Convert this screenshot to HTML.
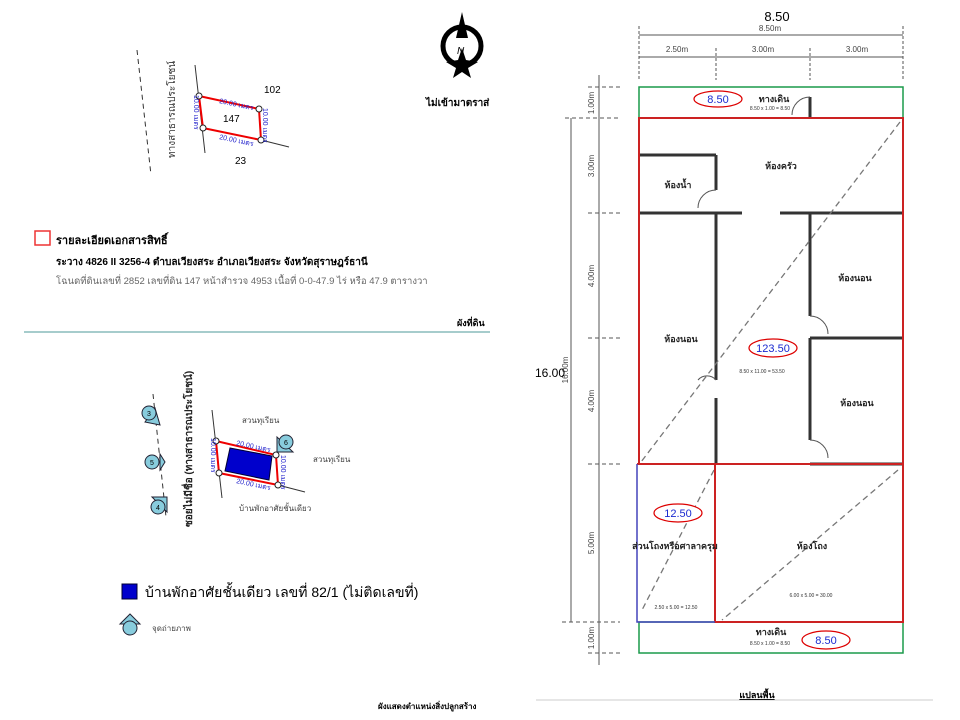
<!DOCTYPE html>
<html><head><meta charset="utf-8"><style>
body{margin:0;background:#fff;}
svg{display:block;font-family:"Liberation Sans","Noto Sans CJK SC",sans-serif;}
</style></head><body>
<svg width="960" height="720" viewBox="0 0 960 720" xmlns="http://www.w3.org/2000/svg">
<rect width="960" height="720" fill="#fff"/>
<!-- TOP LEFT MAP -->
<line x1="137" y1="50" x2="151" y2="175" stroke="#333" stroke-dasharray="5,4"/>
<text x="0" y="0" font-size="10" fill="#333" transform="translate(175,158) rotate(-90)">ทางสาธารณประโยชน์</text>
<line x1="195" y1="65" x2="205" y2="153" stroke="#333"/>
<line x1="261" y1="140" x2="289" y2="147" stroke="#333"/>
<polygon points="199,96 259,109 261,140 203,128" fill="none" stroke="#e00" stroke-width="2"/>
<g fill="#fff" stroke="#222"><circle cx="199" cy="96" r="3"/><circle cx="259" cy="109" r="3"/><circle cx="261" cy="140" r="3"/><circle cx="203" cy="128" r="3"/></g>
<text x="219" y="103" font-size="7" fill="#22c" transform="rotate(12 219 103)">20.00 เมตร</text>
<text x="219" y="139" font-size="7" fill="#22c" transform="rotate(12 219 139)">20.00 เมตร</text>
<text x="0" y="0" font-size="7" fill="#22c" transform="translate(194,95) rotate(90)">10.00 เมตร</text>
<text x="0" y="0" font-size="7" fill="#22c" transform="translate(263,108) rotate(90)">10.00 เมตร</text>
<text x="264" y="93" font-size="10">102</text>
<text x="223" y="122" font-size="10">147</text>
<text x="235" y="164" font-size="10">23</text>
<!-- compass -->
<circle cx="462" cy="46" r="19" fill="none" stroke="#000" stroke-width="5"/>
<polygon points="462,12 456,38 468,38" fill="#000"/>
<polygon points="462,48 466,60 478,62 468,68 471,78 462,72 453,78 456,68 446,62 458,60" fill="#000"/>
<text x="457" y="54" font-size="10" font-style="italic">N</text>
<text x="426" y="106" font-size="10" font-weight="bold">ไม่เข้ามาตราส่</text>
<rect x="35" y="231" width="15" height="14" fill="none" stroke="#e33" stroke-width="1.5"/>
<text x="56" y="244" font-size="11" font-weight="bold">รายละเอียดเอกสารสิทธิ์</text>
<text x="56" y="265" font-size="10" font-weight="bold">ระวาง 4826 II 3256-4 ตำบลเวียงสระ  อำเภอเวียงสระ  จังหวัดสุราษฎร์ธานี</text>
<text x="56" y="284" font-size="9.5" fill="#666">โฉนดที่ดินเลขที่   2852   เลขที่ดิน   147   หน้าสำรวจ   4953   เนื้อที่ 0-0-47.9 ไร่ หรือ  47.9  ตารางวา</text>
<text x="457" y="326" font-size="9" font-weight="bold">ผังที่ดิน</text>
<line x1="24" y1="332" x2="490" y2="332" stroke="#8bb" stroke-width="1.5"/>
<!-- BOTTOM LEFT MAP -->
<line x1="153" y1="394" x2="166" y2="517" stroke="#333" stroke-dasharray="5,4"/>
<text x="0" y="0" font-size="10" font-weight="bold" fill="#222" transform="translate(192,527) rotate(-90)">ซอยไม่มีชื่อ (ทางสาธารณประโยชน์)</text>
<line x1="212" y1="410" x2="222" y2="498" stroke="#333"/>
<line x1="278" y1="485" x2="305" y2="492" stroke="#333"/>
<polygon points="216,441 276,455 278,485 219,473" fill="none" stroke="#e00" stroke-width="2"/>
<polygon points="230,448 272,456 269,480 225,471" fill="#00c" stroke="#003" stroke-width="1"/>
<g fill="#fff" stroke="#222"><circle cx="216" cy="441" r="3"/><circle cx="276" cy="455" r="3"/><circle cx="278" cy="485" r="3"/><circle cx="219" cy="473" r="3"/></g>
<text x="236" y="445" font-size="7" fill="#22c" transform="rotate(12 236 445)">20.00 เมตร</text>
<text x="236" y="483" font-size="7" fill="#22c" transform="rotate(12 236 483)">20.00 เมตร</text>
<text x="0" y="0" font-size="7" fill="#22c" transform="translate(211,438) rotate(90)">10.00 เมตร</text>
<text x="0" y="0" font-size="7" fill="#22c" transform="translate(281,455) rotate(90)">10.00 เมตร</text>
<text x="242" y="423" font-size="8" fill="#444">สวนทุเรียน</text>
<text x="313" y="462" font-size="8" fill="#444">สวนทุเรียน</text>
<text x="239" y="511" font-size="8" fill="#444">บ้านพักอาศัยชั้นเดียว</text>
<g stroke="#223" stroke-width="1" fill="#8cd">
<polygon points="145,422 160,425 155,408"/><circle cx="149" cy="413" r="7"/>
<polygon points="160,470 165,462 160,454"/><circle cx="152" cy="462" r="7"/>
<polygon points="152,497 167,497 167,512"/><circle cx="158" cy="507" r="7"/>
<polygon points="277,437 277,452 293,452"/><circle cx="286" cy="442" r="7"/>
<polygon points="120,624 130,614 140,624"/><circle cx="130" cy="628" r="7"/>
</g>
<g font-size="7" text-anchor="middle"><text x="149" y="416">3</text><text x="152" y="465">5</text><text x="158" y="510">4</text><text x="286" y="445">6</text></g>
<rect x="122" y="584" width="15" height="15" fill="#00c" stroke="#003"/>
<text x="145" y="597" font-size="14">บ้านพักอาศัยชั้นเดียว เลขที่ 82/1 (ไม่ติดเลขที่)</text>
<text x="152" y="631" font-size="8" fill="#444">จุดถ่ายภาพ</text>
<text x="378" y="709" font-size="8" font-weight="bold">ผังแสดงตำแหน่งสิ่งปลูกสร้าง</text>
<!-- RIGHT FLOOR PLAN -->
<g stroke="#555" stroke-width="1" fill="none">
<line x1="639" y1="35" x2="903" y2="35"/>
<line x1="639" y1="57" x2="903" y2="57"/>
<line x1="639" y1="26" x2="639" y2="80" stroke-dasharray="3,2"/>
<line x1="716" y1="48" x2="716" y2="80" stroke-dasharray="3,2"/>
<line x1="810" y1="48" x2="810" y2="80" stroke-dasharray="3,2"/>
<line x1="903" y1="26" x2="903" y2="80" stroke-dasharray="3,2"/>
<line x1="599" y1="75" x2="599" y2="665"/>
<line x1="571" y1="118" x2="571" y2="622"/>
<g stroke-dasharray="4,3"><line x1="588" y1="87" x2="620" y2="87"/><line x1="565" y1="118" x2="620" y2="118"/><line x1="588" y1="213" x2="620" y2="213"/><line x1="588" y1="338" x2="620" y2="338"/><line x1="588" y1="464" x2="620" y2="464"/><line x1="562" y1="622" x2="620" y2="622"/><line x1="588" y1="653" x2="620" y2="653"/></g>
</g>
<text x="777" y="21" font-size="13" text-anchor="middle">8.50</text>
<g font-size="8" fill="#444" text-anchor="middle"><text x="770" y="31">8.50m</text><text x="677" y="52">2.50m</text><text x="763" y="52">3.00m</text><text x="857" y="52">3.00m</text></g>
<g font-size="8" fill="#444" text-anchor="middle">
<text transform="translate(594,103) rotate(-90)">1.00m</text>
<text transform="translate(594,166) rotate(-90)">3.00m</text>
<text transform="translate(594,276) rotate(-90)">4.00m</text>
<text transform="translate(594,401) rotate(-90)">4.00m</text>
<text transform="translate(594,543) rotate(-90)">5.00m</text>
<text transform="translate(594,638) rotate(-90)">1.00m</text>
<text transform="translate(568,370) rotate(-90)">16.00m</text>
</g>
<text x="535" y="377" font-size="12">16.00</text>
<!-- walls -->
<g stroke="#333" stroke-width="3" fill="none">
<line x1="639" y1="155" x2="716" y2="155"/><line x1="716" y1="155" x2="716" y2="190"/>
<line x1="639" y1="213" x2="742" y2="213"/><line x1="780" y1="213" x2="903" y2="213"/>
<line x1="716" y1="213" x2="716" y2="380"/><line x1="716" y1="398" x2="716" y2="464"/>
<line x1="810" y1="213" x2="810" y2="316"/><line x1="810" y1="338" x2="903" y2="338"/>
<line x1="810" y1="338" x2="810" y2="440"/><line x1="810" y1="464" x2="903" y2="464"/>
<line x1="810" y1="97" x2="810" y2="118"/>
</g>
<g stroke="#555" fill="none" stroke-width="1">
<path d="M716,190 A18,18 0 0 0 698,208"/><path d="M810,316 A18,18 0 0 1 828,334"/><path d="M810,440 A18,18 0 0 1 828,458"/><path d="M810,97 A18,18 0 0 0 792,115"/><path d="M716,380 A12,12 0 0 0 698,380"/>
</g>
<g stroke="#777" stroke-width="1.3" stroke-dasharray="6,4" fill="none">
<line x1="900" y1="122" x2="641" y2="462"/>
<line x1="714" y1="470" x2="641" y2="612"/>
<line x1="898" y1="470" x2="722" y2="620"/>
</g>
<rect x="639" y="87" width="264" height="31" fill="none" stroke="#1a9a4a" stroke-width="1.5"/>
<rect x="639" y="622" width="264" height="31" fill="none" stroke="#1a9a4a" stroke-width="1.5"/>
<rect x="639" y="118" width="264" height="346" fill="none" stroke="#c22" stroke-width="2"/>
<rect x="715" y="464" width="188" height="158" fill="none" stroke="#c22" stroke-width="2"/>
<polyline points="715,464 637,464" stroke="#c22" stroke-width="2" fill="none"/>
<polyline points="637,464 637,622 715,622" stroke="#44b" stroke-width="1.5" fill="none"/>
<g font-size="9" font-weight="bold" fill="#222" text-anchor="middle">
<text x="774" y="102">ทางเดิน</text><text x="781" y="169">ห้องครัว</text><text x="678" y="188">ห้องน้ำ</text>
<text x="855" y="281">ห้องนอน</text><text x="681" y="342">ห้องนอน</text><text x="857" y="406">ห้องนอน</text>
<text x="675" y="549">ส่วนโถงหรือศาลาครุม</text><text x="812" y="549">ห้องโถง</text><text x="771" y="635">ทางเดิน</text>
</g>
<g font-size="5" fill="#333" text-anchor="middle"><text x="770" y="110">8.50 x 1.00 = 8.50</text><text x="762" y="373">8.50 x 11.00 = 53.50</text><text x="676" y="609">2.50 x 5.00 = 12.50</text><text x="811" y="597">6.00 x 5.00 = 30.00</text><text x="770" y="645">8.50 x 1.00 = 8.50</text></g>
<g fill="#fff" stroke="#d00" stroke-width="1.2">
<ellipse cx="718" cy="99" rx="24" ry="8"/><ellipse cx="773" cy="348" rx="24" ry="9"/><ellipse cx="678" cy="513" rx="24" ry="9"/><ellipse cx="826" cy="640" rx="24" ry="9"/>
</g>
<g font-size="11" fill="#1a2ad0" text-anchor="middle">
<text x="718" y="103">8.50</text><text x="773" y="352">123.50</text><text x="678" y="517">12.50</text><text x="826" y="644">8.50</text>
</g>
<line x1="536" y1="700" x2="933" y2="700" stroke="#ccc"/>
<text x="757" y="698" font-size="9" font-weight="bold" text-anchor="middle" text-decoration="underline">แปลนพื้น</text>
</svg>
</body></html>
